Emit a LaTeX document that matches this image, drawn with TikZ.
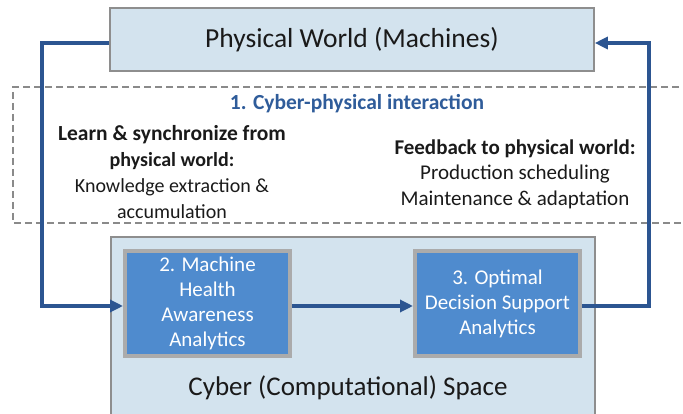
\documentclass[tikz,border=0pt]{standalone}
\usepackage{fontspec}
\setmainfont{Carlito}
\usetikzlibrary{arrows.meta}
\definecolor{physfill}{HTML}{D3E3EE}
\definecolor{boxgray}{HTML}{8E8E8E}
\definecolor{innerblue}{HTML}{4F8BCE}
\definecolor{innergray}{HTML}{ABABAB}
\definecolor{arrowblue}{HTML}{2C5591}
\definecolor{titleblue}{HTML}{2F5C9A}
\definecolor{dashgray}{HTML}{8A8A8A}
\definecolor{txt}{HTML}{1A1A1A}
\tikzset{
  bigbox/.style={draw=boxgray, line width=1.6pt, fill=physfill, inner sep=0pt, text=txt},
  anbox/.style={draw=innergray, line width=4pt, fill=innerblue, inner sep=0pt,
     minimum width=165pt, minimum height=105pt, text=white, align=center,
     font=\fontsize{21}{25}\selectfont},
  flow/.style={draw=arrowblue, line width=3.2pt, -{Triangle[length=13pt,width=12pt]}},
  body/.style={text=txt, align=center, inner sep=0pt},
}
\begin{document}
\begin{tikzpicture}[x=1pt,y=-1pt]
\useasboundingbox (0,0) rectangle (683,414);
\clip (0,0) rectangle (683,414);
% dashed region
\draw[dashgray, line width=2.6pt, dash pattern=on 7pt off 4pt] (690,87) -- (13,87) -- (13,223) -- (690,223);
% physical world
\node[bigbox, minimum width=484pt, minimum height=63pt, font=\fontsize{27.5}{30}\selectfont] (phys) at (352,39.5) {Physical World (Machines)};
% cyber space
\node[bigbox, minimum width=484pt, minimum height=185pt] (cyber) at (353,329.5) {};
\node[text=txt, inner sep=0pt, font=\fontsize{27}{30}\selectfont] (cybertxt) at (348,388) {Cyber (Computational) Space};
% analytics boxes
\node[anbox] (mha) at (207.5,303.5) {2. Machine\\Health\\Awareness\\Analytics};
\node[anbox] (ods) at (497.5,303.5) {3. Optimal\\Decision Support\\Analytics};
% texts
\node[text=titleblue, inner sep=0pt, font=\bfseries\fontsize{21.5}{24}\selectfont] (cpi) at (357,104) {1. Cyber-physical interaction};
\node[body, anchor=north, font=\fontsize{20}{26}\selectfont] (learn) at (172,125) {{\fontsize{21.5}{26}\selectfont\bfseries Learn \& synchronize from}\\\textbf{physical world:}\\Knowledge extraction \&\\accumulation};
\node[body, anchor=north, font=\fontsize{21}{25.5}\selectfont] (feed) at (515,139.5) {\textbf{Feedback to physical world:}\\Production scheduling\\Maintenance \& adaptation};
% connectors
\coordinate (lc1) at (42,43);
\coordinate (lc2) at (42,306);
\coordinate (rc1) at (649,306);
\coordinate (rc2) at (649,43);
\draw[flow] ([yshift=-3.5pt]phys.west) -- (lc1) -- (lc2) -- ([yshift=-2.5pt]mha.west);
\draw[flow] ([yshift=-2.5pt]mha.east) -- ([yshift=-2.5pt]ods.west);
\draw[flow] ([yshift=-2.5pt]ods.east) -- (rc1) -- (rc2) -- ([yshift=-3.5pt]phys.east);
\end{tikzpicture}
\end{document}
